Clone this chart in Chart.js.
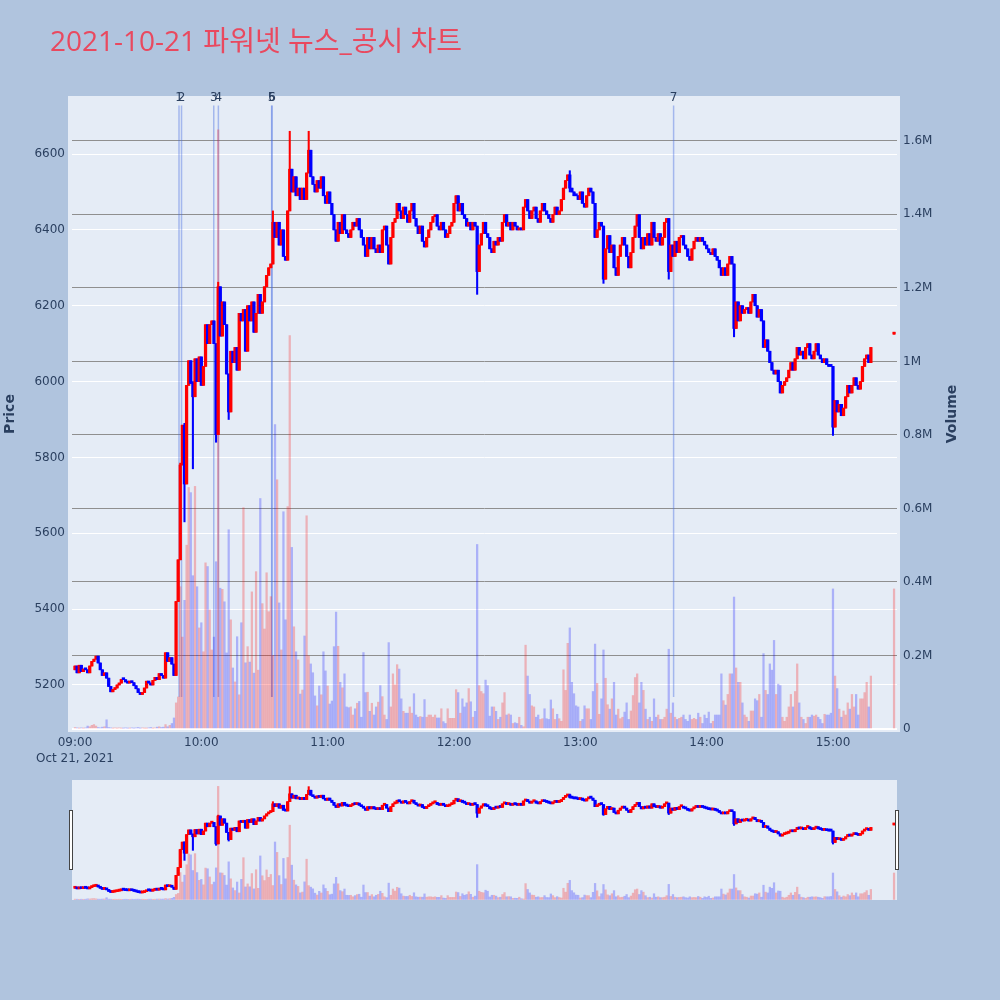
<!DOCTYPE html>
<html>
<head>
<meta charset="utf-8">
<script src="https://cdn.jsdelivr.net/npm/chart.js@4.4.1/dist/chart.umd.min.js"></script>
<style>
  html, body { margin: 0; padding: 0; background: #b0c4de; }
  #wrap { position: relative; width: 1000px; height: 1000px; overflow: hidden; }
  #main { position: absolute; left: 0; top: 0; }
  #slider { position: absolute; left: 62px; top: 775px; }
</style>
</head>
<body>
<div id="wrap">
  <canvas id="main" width="1000" height="1000"></canvas>
  <canvas id="slider" width="841" height="130"></canvas>
</div>
<script>
// one candle per minute, counted from 09:00
const firstOpen = 5240;
const sessionCloses = [
  5250, 5232, 5252, 5235, 5242, 5240, 5232, 5250, 5262, 5268,
  5276, 5258, 5240, 5225, 5232, 5218, 5196, 5182, 5188, 5192,
  5200, 5205, 5215, 5214, 5208, 5205, 5210, 5206, 5198, 5190,
  5180, 5175, 5180, 5192, 5210, 5205, 5200, 5212, 5220, 5214,
  5230, 5225, 5218, 5285, 5262, 5272, 5255, 5225, 5420, 5530,
  5780, 5885, 5730, 5990, 6055, 5995, 5960, 6060, 6000, 6065,
  5990, 6040, 6150, 6100, 6150, 6160, 6100, 5860, 6250, 6120,
  6210, 6150, 6020, 5920, 6080, 6050, 6090, 6030, 6180, 6160,
  6190, 6080, 6200, 6160, 6210, 6130, 6180, 6230, 6180, 6210,
  6250, 6280, 6300, 6310, 6420, 6380, 6420, 6360, 6400, 6330,
  6320, 6450, 6560, 6500, 6540, 6490, 6510, 6480, 6510, 6480,
  6550, 6610, 6540, 6520, 6500, 6530, 6510, 6540, 6490, 6470,
  6500, 6470, 6440, 6400, 6370, 6420, 6390, 6440, 6400, 6390,
  6380, 6400, 6420, 6410, 6430, 6400, 6380, 6360, 6330, 6380,
  6350, 6380, 6350, 6340, 6360, 6340, 6400, 6410, 6360, 6310,
  6380, 6420, 6430, 6470, 6450, 6430, 6460, 6440, 6420, 6450,
  6470, 6430, 6410, 6390, 6410, 6370, 6355, 6380, 6400, 6420,
  6435, 6440, 6410, 6400, 6420, 6400, 6380, 6390, 6410, 6420,
  6470, 6490, 6450, 6470, 6440, 6430, 6410, 6420, 6400, 6420,
  6410, 6290, 6360, 6390, 6420, 6390, 6380, 6350, 6340, 6370,
  6360, 6380, 6370, 6420, 6440, 6410, 6420, 6400, 6420, 6410,
  6400, 6405, 6400, 6460, 6480, 6450, 6430, 6450, 6460, 6430,
  6420, 6450, 6470, 6450, 6440, 6430, 6420, 6440, 6460, 6440,
  6450, 6480, 6510, 6530, 6545, 6510, 6500, 6490, 6490, 6480,
  6500, 6470, 6460, 6490, 6510, 6500, 6470, 6380, 6400, 6420,
  6410, 6270, 6350, 6385, 6340, 6360, 6300, 6280, 6330, 6360,
  6380, 6360, 6330, 6300, 6340, 6380, 6410, 6440, 6380, 6350,
  6380, 6360, 6390, 6360, 6420, 6380, 6370, 6390, 6360, 6380,
  6420, 6430, 6290, 6360, 6330, 6370, 6340, 6380, 6385, 6360,
  6350, 6330, 6320, 6350, 6370, 6380, 6370, 6380, 6370, 6360,
  6350, 6340, 6335, 6350, 6330, 6320, 6300, 6280, 6300, 6280,
  6310, 6330, 6310, 6140, 6210, 6160, 6200, 6180, 6190, 6195,
  6180, 6210, 6230, 6200, 6170, 6190, 6160, 6090, 6110, 6080,
  6050, 6030, 6020, 6030, 6000, 5970, 5990, 6000, 6010, 6030,
  6050, 6030, 6060, 6090, 6070, 6080, 6060, 6090, 6100, 6070,
  6060, 6080, 6100, 6070, 6060, 6050, 6060, 6045, 6040, 6040,
  5880, 5950, 5920, 5940, 5910, 5930, 5960, 5990, 5970, 5990,
  6010, 5990, 5980, 6000, 6040, 6060, 6070, 6050, 6090
];
// traded volume per minute, thousand shares
const sessionVolumesK = [
  4, 3, 2, 3, 2, 3, 8, 6, 10, 12,
  8, 4, 3, 5, 6, 25, 4, 3, 2, 3,
  2, 3, 2, 2, 3, 2, 2, 3, 2, 3,
  4, 2, 3, 2, 2, 3, 4, 2, 3, 5,
  6, 4, 5, 12, 6, 10, 15, 30, 71, 87,
  387, 250, 350, 500, 657, 643, 417, 660, 387, 275,
  289, 210, 452, 442, 324, 215, 250, 455, 1630, 383,
  380, 346, 207, 542, 297, 166, 128, 251, 93, 289,
  602, 180, 224, 182, 373, 152, 428, 160, 627, 341,
  272, 425, 319, 360, 200, 828, 678, 343, 215, 591,
  297, 605, 1070, 494, 278, 210, 188, 95, 106, 253,
  580, 199, 177, 153, 90, 63, 117, 93, 210, 158,
  117, 68, 76, 224, 318, 225, 127, 112, 150, 60,
  58, 60, 38, 55, 70, 75, 32, 208, 99, 100,
  48, 70, 38, 60, 73, 118, 88, 38, 26, 235,
  60, 150, 120, 175, 163, 82, 48, 43, 43, 60,
  43, 96, 38, 32, 34, 32, 80, 32, 38, 38,
  32, 38, 30, 30, 55, 20, 15, 55, 29, 29,
  29, 107, 99, 43, 82, 60, 71, 110, 74, 32,
  48, 502, 118, 102, 96, 133, 118, 35, 60, 60,
  48, 26, 32, 71, 99, 38, 41, 38, 15, 17,
  15, 32, 10, 6, 228, 144, 94, 63, 60, 32,
  38, 26, 28, 55, 28, 26, 79, 55, 26, 40,
  28, 21, 161, 105, 233, 275, 127, 96, 63, 60,
  21, 26, 63, 55, 55, 26, 102, 231, 124, 40,
  82, 215, 138, 66, 54, 82, 127, 38, 54, 28,
  32, 46, 71, 26, 49, 91, 140, 150, 71, 127,
  105, 54, 26, 32, 21, 82, 32, 38, 26, 26,
  32, 54, 217, 43, 71, 32, 26, 29, 32, 38,
  26, 21, 38, 26, 29, 26, 43, 32, 15, 38,
  29, 46, 15, 21, 38, 38, 38, 150, 77, 65,
  94, 150, 150, 359, 166, 127, 127, 71, 38, 32,
  21, 49, 49, 82, 77, 94, 32, 205, 105, 94,
  177, 160, 241, 94, 122, 118, 32, 21, 32, 60,
  94, 60, 102, 177, 71, 32, 26, 15, 32, 32,
  38, 35, 38, 32, 26, 15, 40, 38, 38, 43,
  381, 144, 110, 54, 32, 49, 38, 71, 54, 94,
  60, 94, 38, 82, 82, 99, 127, 60, 144
];
// closing auction print (15:29)
const auctionMinute = 389;
const auctionOpen = 6125;
const auctionClose = 6130;
const auctionVolumeK = 381;

// candles whose wicks reach beyond the body
const wickMinutes = [50, 52, 56, 67, 68, 73, 94, 102, 111, 191, 235, 251, 282, 313, 360];
const wickLows =    [5530, 5630, 5770, 5840, 5860, 5900, 6310, 6450, 6550, 6230, 6500, 6259, 6270, 6118, 5858];
const wickHighs =   [5785, 5890, 6000, 6100, 6262, 6020, 6450, 6660, 6660, 6410, 6556, 6410, 6430, 6310, 6040];

// news / disclosure markers
const newsNumbers = ['1', '2', '3', '4', '5', '6', '7'];
const newsMinutes = [49.4, 50.6, 65.9, 68.1, 93.4, 93.6, 284.3];
const newsLineLow = 5168;
const newsLineHigh = 6728;

const timeTickMinutes = [0, 60, 120, 180, 240, 300, 360];
const timeTickLabels = ['09:00', '10:00', '11:00', '12:00', '13:00', '14:00', '15:00'];
const dateLabel = 'Oct 21, 2021';
const priceTicks = [5200, 5400, 5600, 5800, 6000, 6200, 6400, 6600];
const volumeTicks = [0, 200000, 400000, 600000, 800000, 1000000, 1200000, 1400000, 1600000];
const volumeTickLabels = ['0', '0.2M', '0.4M', '0.6M', '0.8M', '1M', '1.2M', '1.4M', '1.6M'];

const titleText = '2021-10-21 파워넷 뉴스_공시 차트';

const X_MIN = -1.42, X_MAX = 390.4;
const P_MIN = 5076, P_MAX = 6753;
const V_MIN = -8200, V_MAX = 1722000;

const PLOT_BG = '#e5ecf6';
const TEXT = '#2a3f5f';
const UP = '#ff0000', DOWN = '#0000ff';
const UP_VOL = 'rgba(255,0,0,0.25)', DOWN_VOL = 'rgba(0,0,255,0.25)';
const FONT = "'DejaVu Sans', Verdana, sans-serif";

Chart.defaults.font.family = FONT;
Chart.defaults.font.size = 12;
Chart.defaults.color = TEXT;

const minutes = sessionCloses.map((_, i) => i).concat([auctionMinute]);
const closes = sessionCloses.concat([auctionClose]);
const opens = closes.map((c, i) => {
  if (i === 0) return firstOpen;
  if (i === closes.length - 1) return auctionOpen;
  return closes[i - 1];
});
const highs = opens.map((o, i) => Math.max(o, closes[i]));
const lows = opens.map((o, i) => Math.min(o, closes[i]));
wickMinutes.forEach((m, k) => {
  const i = minutes.indexOf(m);
  highs[i] = Math.max(highs[i], wickHighs[k]);
  lows[i] = Math.min(lows[i], wickLows[k]);
});
const volumes = sessionVolumesK.concat([auctionVolumeK]).map(v => v * 1000);
const isUp = closes.map((c, i) => c > opens[i]);

function makeDatasets() {
  return [
    {
      label: 'Volume',
      yAxisID: 'yVol',
      data: minutes.map((m, i) => ({ x: m, y: volumes[i] })),
      backgroundColor: isUp.map(u => u ? UP_VOL : DOWN_VOL),
      barThickness: 1.6,
      grouped: false,
      order: 3
    },
    {
      label: 'wick',
      yAxisID: 'y',
      data: minutes.map((m, i) => ({ x: m, y: [lows[i], highs[i]] })),
      backgroundColor: isUp.map(u => u ? UP : DOWN),
      barThickness: 1.4,
      grouped: false,
      order: 2
    },
    {
      label: 'Price',
      yAxisID: 'y',
      data: minutes.map((m, i) => ({ x: m, y: [opens[i], closes[i]] })),
      backgroundColor: isUp.map(u => u ? UP : DOWN),
      barThickness: 2.6,
      minBarLength: 2,
      grouped: false,
      order: 1
    }
  ];
}

const mainDecor = {
  id: 'mainDecor',
  beforeDraw(chart) {
    const { ctx, chartArea: a } = chart;
    ctx.save();
    ctx.fillStyle = PLOT_BG;
    ctx.fillRect(a.left - 4, a.top, a.right - a.left + 7, a.bottom - a.top);
    ctx.restore();
  },
  beforeDatasetsDraw(chart) {
    const { ctx } = chart;
    const x = chart.scales.x, y = chart.scales.y;
    ctx.save();
    ctx.strokeStyle = 'rgba(65,105,225,0.4)';
    ctx.lineWidth = 1.5;
    newsMinutes.forEach(m => {
      const px = x.getPixelForValue(m);
      ctx.beginPath();
      ctx.moveTo(px, y.getPixelForValue(newsLineHigh));
      ctx.lineTo(px, y.getPixelForValue(newsLineLow));
      ctx.stroke();
    });
    ctx.restore();
  },
  afterDraw(chart) {
    const { ctx, chartArea: a } = chart;
    const x = chart.scales.x, y = chart.scales.y;
    ctx.save();
    // news numbers
    ctx.fillStyle = TEXT;
    ctx.font = '12px ' + FONT;
    ctx.textAlign = 'center';
    ctx.textBaseline = 'alphabetic';
    newsMinutes.forEach((m, k) => {
      ctx.fillText(newsNumbers[k], x.getPixelForValue(m), y.getPixelForValue(newsLineHigh) - 4);
    });
    // title
    ctx.fillStyle = '#e9495f';
    ctx.font = "28px 'Open Sans', 'Noto Sans CJK KR', sans-serif";
    ctx.textAlign = 'left';
    ctx.fillText(titleText, 50, 51);
    // axis titles
    const midY = (a.top + a.bottom) / 2;
    ctx.fillStyle = TEXT;
    ctx.font = 'bold 14px ' + FONT;
    ctx.textAlign = 'center';
    ctx.textBaseline = 'middle';
    ctx.translate(10, midY);
    ctx.rotate(-Math.PI / 2);
    ctx.fillText('Price', 0, 0);
    ctx.setTransform(1, 0, 0, 1, 0, 0);
    ctx.translate(952, midY);
    ctx.rotate(-Math.PI / 2);
    ctx.fillText('Volume', 0, 0);
    ctx.restore();
  }
};

new Chart(document.getElementById('main'), {
  type: 'bar',
  data: { datasets: makeDatasets() },
  options: {
    responsive: false,
    animation: false,
    events: [],
    layout: { padding: { left: 0, right: 0, top: 96, bottom: 228 } },
    plugins: { legend: { display: false }, tooltip: { enabled: false } },
    scales: {
      x: {
        type: 'linear', min: X_MIN, max: X_MAX, offset: false,
        grid: { display: false, drawTicks: false, offset: false },
        border: { display: false },
        afterBuildTicks: s => { s.ticks = timeTickMinutes.map(v => ({ value: v })); },
        afterFit: s => { s.height = 40; },
        ticks: {
          autoSkip: false, maxRotation: 0, minRotation: 0, padding: 3,
          font: { size: 12, lineHeight: 1.3 },
          callback: (v, i) => i === 0 ? [timeTickLabels[i], dateLabel] : timeTickLabels[i]
        }
      },
      y: {
        type: 'linear', position: 'left', min: P_MIN, max: P_MAX,
        grid: { color: '#ffffff', lineWidth: 1, drawTicks: false },
        border: { display: false },
        afterBuildTicks: s => { s.ticks = priceTicks.map(v => ({ value: v })); },
        afterFit: s => { s.width = 72; },
        ticks: { padding: 7, callback: (v, i) => String(priceTicks[i]) }
      },
      yVol: {
        type: 'linear', position: 'right', min: V_MIN, max: V_MAX,
        grid: {
          drawTicks: false,
          color: c => c.tick && c.tick.value === 0 ? '#ffffff' : '#8f8f8f',
          lineWidth: c => c.tick && c.tick.value === 0 ? 2 : 1
        },
        border: { display: false },
        afterBuildTicks: s => { s.ticks = volumeTicks.map(v => ({ value: v })); },
        afterFit: s => { s.width = 103; },
        ticks: { padding: 6, callback: (v, i) => volumeTickLabels[i] }
      }
    }
  },
  plugins: [mainDecor]
});

const sliderDecor = {
  id: 'sliderDecor',
  beforeDraw(chart) {
    const { ctx, chartArea: a } = chart;
    ctx.save();
    ctx.fillStyle = PLOT_BG;
    ctx.fillRect(a.left, a.top, a.right - a.left, a.bottom - a.top);
    ctx.restore();
  },
  afterDraw(chart) {
    const { ctx, chartArea: a } = chart;
    ctx.save();
    ctx.fillStyle = '#ffffff';
    ctx.strokeStyle = '#444444';
    ctx.lineWidth = 1;
    [a.left - 2.5, a.right - 1.5].forEach(hx => {
      ctx.fillRect(hx, a.top + 30.5, 3, 59);
      ctx.strokeRect(hx, a.top + 30.5, 3, 59);
    });
    ctx.restore();
  }
};

new Chart(document.getElementById('slider'), {
  type: 'bar',
  data: { datasets: makeDatasets() },
  options: {
    responsive: false,
    animation: false,
    events: [],
    layout: { padding: { left: 10, right: 6, top: 5, bottom: 5 } },
    plugins: { legend: { display: false }, tooltip: { enabled: false } },
    scales: {
      x: { type: 'linear', min: X_MIN, max: X_MAX, offset: false, display: false },
      y: { type: 'linear', min: P_MIN, max: P_MAX, display: false },
      yVol: { type: 'linear', min: V_MIN, max: V_MAX, display: false }
    }
  },
  plugins: [sliderDecor]
});
</script>
</body>
</html>
